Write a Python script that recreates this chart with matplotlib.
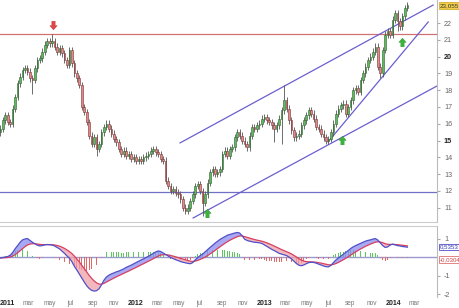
import matplotlib
matplotlib.use('Agg')
import matplotlib.pyplot as plt
import matplotlib.dates as mdates
from matplotlib.path import Path
import numpy as np
import pandas as pd
from matplotlib.patches import Rectangle

# ---------------- data ----------------
start_date = '2010-12-13'
closes = [
    15.7, 16.2, 16.5, 16.1, 16.0, 16.9, 17.6, 18.4, 18.8, 19.2,
    19.3, 19.1, 18.7, 18.6, 19.3, 19.8, 19.9, 20.3, 20.7, 20.9,
    20.8, 20.9, 20.6, 20.3, 20.5, 20.2, 19.8, 19.5, 20.4, 19.6,
    19.0, 18.7, 18.3, 17.0, 16.7, 16.1, 15.3, 14.8, 15.2, 14.5,
    14.8, 15.5, 15.8, 16.0, 15.7, 15.4, 15.1, 14.9, 14.5, 14.2,
    14.4, 14.1, 14.2, 13.9, 14.0, 13.8, 13.9, 13.8, 14.0, 14.1,
    14.2, 14.4, 14.5, 14.3, 14.2, 13.9, 13.8, 12.6, 12.3, 12.0,
    12.1, 11.9, 11.8, 11.5, 11.0, 10.8, 11.0, 11.4, 11.8, 12.3,
    12.4, 12.0, 11.3, 11.8, 12.5, 13.1, 13.3, 13.0, 13.1, 13.3,
    14.2, 14.4, 14.1, 14.5, 14.6, 15.2, 15.5, 15.3, 15.0, 14.8,
    14.6, 15.3, 15.8, 15.7, 15.9, 16.0, 16.3, 16.4, 16.2, 16.1,
    15.9, 15.7, 15.9, 16.3, 16.8, 17.4, 16.9, 16.2, 15.6, 15.2,
    15.3, 15.4, 15.9, 16.2, 16.5, 16.8, 16.6, 16.3, 15.8, 15.7,
    15.4, 15.2, 15.0, 15.1, 15.5, 16.0, 16.6, 16.9, 17.1, 17.2,
    16.6, 17.0, 17.4, 18.0, 18.1, 17.9, 18.6, 19.0, 19.4, 19.8,
    20.0, 20.3, 20.6, 19.4, 19.0, 20.4, 21.3, 21.5, 21.3, 22.2,
    22.6, 22.1, 21.8, 22.4, 22.9, 23.055,
]
first_open = 15.5
high_overrides = {21: 21.35, 115: 18.3, 7: 18.6, 28: 20.6}
low_overrides = {13: 17.8, 39: 14.1, 75: 10.6, 82: 10.5, 111: 14.9, 114: 14.8,
                 132: 14.85, 154: 18.7, 161: 21.5}

# MACD line (one value per week)
macd_values = [
    -0.05, -0.02, 0.0, 0.03, 0.1, 0.25, 0.45, 0.62, 0.8, 0.93,
    0.98, 1.0, 0.9, 0.8, 0.72, 0.64, 0.6, 0.62, 0.66, 0.68,
    0.67, 0.65, 0.6, 0.52, 0.44, 0.32, 0.2, 0.06, -0.06, -0.25,
    -0.5, -0.7, -0.92, -1.15, -1.35, -1.55, -1.7, -1.8, -1.84, -1.82,
    -1.72, -1.5, -1.25, -1.08, -0.98, -0.91, -0.86, -0.8, -0.76, -0.7,
    -0.64, -0.56, -0.5, -0.44, -0.37, -0.3, -0.23, -0.16, -0.1, -0.03,
    0.04, 0.12, 0.2, 0.28, 0.33, 0.3, 0.22, 0.14, 0.06, -0.02,
    -0.08, -0.14, -0.19, -0.24, -0.28, -0.31, -0.34, -0.36, -0.3, -0.15,
    -0.03, 0.08, 0.16, 0.28, 0.4, 0.52, 0.63, 0.75, 0.85, 0.95,
    1.03, 1.1, 1.18, 1.22, 1.26, 1.3, 1.33, 1.3, 1.15, 0.97,
    0.9, 0.86, 0.83, 0.8, 0.79, 0.77, 0.74, 0.66, 0.58, 0.5,
    0.42, 0.35, 0.28, 0.2, 0.16, 0.12, 0.08, 0.0, -0.1, -0.22,
    -0.35, -0.44, -0.47, -0.43, -0.36, -0.3, -0.28, -0.29, -0.33, -0.38,
    -0.43, -0.48, -0.52, -0.53, -0.45, -0.3, -0.16, -0.05, 0.05, 0.15,
    0.25, 0.35, 0.46, 0.55, 0.62, 0.68, 0.74, 0.8, 0.86, 0.9,
    0.93, 0.97, 1.0, 0.92, 0.77, 0.62, 0.52, 0.55, 0.65, 0.7,
    0.66, 0.62, 0.6, 0.57, 0.55, 0.5353,
]
macd_label_value = 0.5353
hist_label_value = -0.0304
price_label_value = 23.055

resistance_level = 21.35
support_level = 11.95
ytick_values = [11, 12, 13, 14, 15, 16, 17, 18, 19, 20, 21, 22]
macd_ticks = [1, -1, -2]
month_names = {1: None, 3: 'mar', 5: 'may', 7: 'jul', 9: 'sep', 11: 'nov'}
last_label_date = '2014-03-01'

# trend lines (date, value) endpoints
upper_channel = [('2012-05-06', 14.86), ('2014-04-24', 23.07)]
lower_channel = [('2012-06-12', 10.39), ('2014-05-05', 18.25)]
steep_line = [('2013-06-30', 14.92), ('2014-04-10', 22.06)]
# signal arrows: (date, centre value)
down_arrows = [('2011-05-11', 21.88)]
up_arrows = [('2012-07-21', 10.7), ('2013-08-08', 15.04), ('2014-01-26', 20.87)]

# ---------------- derived ----------------
dates = pd.date_range(start_date, periods=len(closes), freq='7D')
xd = mdates.date2num(dates)
c = np.array(closes)
o = np.concatenate([[first_open], c[:-1]])
wick = 0.2
h = np.maximum(o, c) + wick
l = np.minimum(o, c) - wick
for k, v in high_overrides.items():
    h[k] = max(h[k], v)
for k, v in low_overrides.items():
    l[k] = min(l[k], v)

macd = np.array(macd_values)
signal = pd.Series(macd).ewm(span=9, adjust=False).mean().values
hist = macd - signal

FONT = ['Liberation Sans', 'DejaVu Sans']
plt.rcParams['font.family'] = FONT

# ---------------- figure ----------------
W, H = 460, 308
fig = plt.figure(figsize=(W / 100, H / 100), dpi=100)
fig.patch.set_facecolor('white')
ax = fig.add_axes([0, 1 - 222 / H, 437 / W, 222 / H])
axm = fig.add_axes([0, 1 - 297 / H, 437 / W, (297 - 226) / H])

x_left = mdates.date2num(pd.Timestamp('2010-12-12'))
x_right = mdates.date2num(pd.Timestamp('2014-05-05'))

# candles
body_w = 4.6
for i in range(len(c)):
    up = c[i] >= o[i]
    fc = '#5dba5d' if up else '#e08a8a'
    ec = '#2f5f2f' if up else '#7a3030'
    ax.vlines(xd[i], l[i], h[i], color='#555555', lw=0.6, zorder=2)
    bot = min(o[i], c[i])
    ht = max(abs(c[i] - o[i]), 0.04)
    ax.add_patch(Rectangle((xd[i] - body_w / 2, bot), body_w, ht, facecolor=fc,
                           edgecolor=ec, lw=0.4, zorder=3))

ax.axhline(resistance_level, color='#d07070', lw=0.9, zorder=1)
ax.axhline(support_level, color='#7070c8', lw=0.9, zorder=1)
for line in (upper_channel, lower_channel, steep_line):
    xs = [mdates.date2num(pd.Timestamp(d)) for d, _ in line]
    ys = [v for _, v in line]
    ax.plot(xs, ys, color='#6a5fd0', lw=0.9, zorder=1)

up_verts = [(0, 1), (0.85, 0.05), (0.38, 0.05), (0.38, -1), (-0.38, -1),
            (-0.38, 0.05), (-0.85, 0.05), (0, 1)]
up_marker = Path(up_verts, closed=True)
down_marker = Path([(x, -y) for x, y in up_verts], closed=True)
for d, v in down_arrows:
    ax.plot(mdates.date2num(pd.Timestamp(d)), v, marker=down_marker, ms=6.2,
            color='#e04848', mec='#c03030', mew=0.3, zorder=6)
for d, v in up_arrows:
    ax.plot(mdates.date2num(pd.Timestamp(d)), v, marker=up_marker, ms=6.2,
            color='#3cb43c', mec='#2a902a', mew=0.3, zorder=6)

ax.set_xlim(x_left, x_right)
ax.set_ylim(10.15, 23.37)
ax.yaxis.tick_right()
ax.set_yticks(ytick_values)
ax.set_yticklabels([str(v) for v in ytick_values])
for lab, v in zip(ax.get_yticklabels(), ytick_values):
    lab.set_fontsize(5.2)
    lab.set_color('#222222' if v in (15, 20) else '#666666')
    if v in (15, 20):
        lab.set_fontweight('bold')
ax.tick_params(axis='y', length=2, pad=3, color='#aaaaaa')
ax.set_xticks([])
for sp in ['top', 'left']:
    ax.spines[sp].set_visible(False)
ax.spines['right'].set_color('#bbbbbb')
ax.spines['bottom'].set_color('#cccccc')
ax.spines['right'].set_linewidth(0.8)
ax.spines['bottom'].set_linewidth(0.8)

def fmt(v, nd):
    return ('%.*f' % (nd, v)).replace('.', ',')

ax.text(1.007, price_label_value, fmt(price_label_value, 3), transform=ax.get_yaxis_transform(),
        fontsize=4.5, color='#333333', va='center', ha='left',
        bbox=dict(boxstyle='square,pad=0.12', fc='#f2cf4a', ec='#d0a020', lw=0.5),
        clip_on=False)

# MACD panel
axm.axhline(0, color='#9a9ad0', lw=1.0, zorder=1)
axm.bar(xd, hist, width=2.2, color=np.where(hist >= 0, '#5dc85d', '#e06a6a'), zorder=2)
axm.fill_between(xd, macd, signal, where=macd >= signal, interpolate=True,
                 color='#8c8cf0', alpha=0.75, lw=0, zorder=3)
axm.fill_between(xd, macd, signal, where=macd < signal, interpolate=True,
                 color='#f0a0a8', alpha=0.75, lw=0, zorder=3)
axm.plot(xd, signal, color='#d64060', lw=0.9, zorder=4)
axm.plot(xd, macd, color='#5050c8', lw=0.9, zorder=5)
axm.set_xlim(x_left, x_right)
axm.set_ylim(-2.16, 1.68)
axm.yaxis.tick_right()
axm.set_yticks(macd_ticks)
axm.set_yticklabels([str(v) for v in macd_ticks], fontsize=5.2, color='#666666')
axm.tick_params(axis='y', length=2, pad=3, color='#aaaaaa')
for sp in ['left', 'bottom']:
    axm.spines[sp].set_visible(False)
axm.spines['top'].set_color('#cccccc')
axm.spines['right'].set_color('#bbbbbb')
axm.spines['top'].set_linewidth(0.8)
axm.spines['right'].set_linewidth(0.8)

axm.text(1.007, macd_label_value + 0.02, fmt(macd_label_value, 4), transform=axm.get_yaxis_transform(),
         fontsize=4.4, color='#3a3ac0', va='center', ha='left',
         bbox=dict(boxstyle='square,pad=0.12', fc='white', ec='#5050c8', lw=0.6), clip_on=False)
axm.text(1.007, hist_label_value - 0.1, fmt(hist_label_value, 4), transform=axm.get_yaxis_transform(),
         fontsize=4.4, color='#d04040', va='center', ha='left',
         bbox=dict(boxstyle='square,pad=0.12', fc='white', ec='#e07070', lw=0.6), clip_on=False)

# x labels
ticks, labels, bold = [], [], []
last_lab = mdates.date2num(pd.Timestamp(last_label_date))
for y in range(2011, 2015):
    for m, name in month_names.items():
        t = mdates.date2num(pd.Timestamp(year=y, month=m, day=1))
        if t > last_lab:
            continue
        ticks.append(t)
        labels.append(str(y) if name is None else name)
        bold.append(name is None)
axm.set_xticks(ticks)
axm.set_xticklabels(labels)
for lab, b in zip(axm.get_xticklabels(), bold):
    lab.set_fontsize(5.0 if b else 4.7)
    lab.set_color('#222222' if b else '#777777')
    if b:
        lab.set_fontweight('bold')
axm.tick_params(axis='x', length=0, pad=2.5)

fig.savefig('out.png', dpi=100, facecolor='white')
